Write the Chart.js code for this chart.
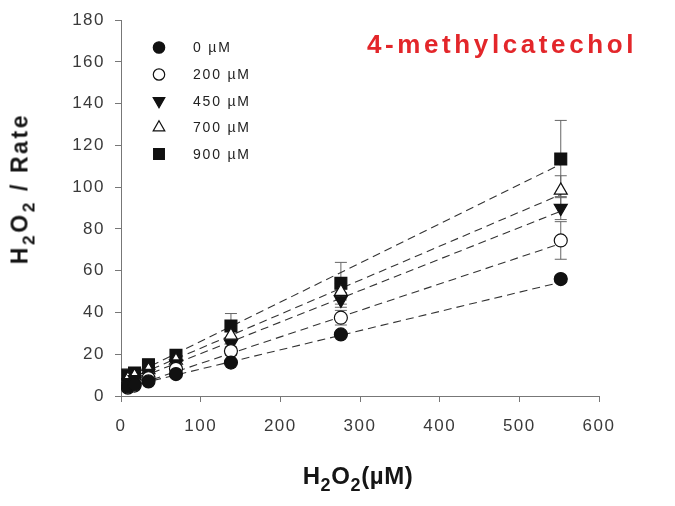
<!DOCTYPE html>
<html>
<head>
<meta charset="utf-8">
<script src="https://cdn.jsdelivr.net/npm/chart.js@4.4.1/dist/chart.umd.min.js"></script>
<style>
  body { margin: 0; background: #fff; }
  #wrap { position: relative; width: 675px; height: 506px; font-family: "Liberation Sans", Arial, sans-serif; }
  #chart { position: absolute; left: 0; top: 0; }
  .lbl { position: absolute; font-weight: bold; color: #151515; white-space: nowrap; text-align: center; line-height: 1; }
  .lbl sub { font-size: 0.75em; vertical-align: -0.38em; line-height: 0; }
  #xTitle { left: 258px; top: 464px; width: 200px; font-size: 24px; letter-spacing: 0.6px; }
  #yTitle { left: -110px; top: 177px; width: 260px; font-size: 23px; transform: rotate(-90deg); letter-spacing: 2.6px; }
  #tag { left: 367px; top: 31px; font-size: 26px; color: #e3262a; letter-spacing: 3.6px; text-align: left; }
</style>
</head>
<body>
<div id="wrap">
  <canvas id="chart" width="675" height="506"></canvas>
  <div class="lbl" id="yTitle">H<sub>2</sub>O<sub>2</sub>&nbsp;/&nbsp;Rate</div>
  <div class="lbl" id="xTitle">H<sub>2</sub>O<sub>2</sub>(&micro;M)</div>
  <div class="lbl" id="tag">4-methylcatechol</div>
</div>
<script>
// H2O2 concentrations as placed on the plot
const h2o2 = [8.6, 17, 34.5, 69, 138, 276, 552];

// H2O2 / Rate for each inhibitor concentration
const rate0 = [4.5, 5.5, 7, 10.5, 16, 29.5, 56];
const rate200 = [4, 5, 8.5, 13, 21.5, 37.5, 74.5];
const rate450 = [6.5, 8, 11, 15.5, 25, 46, 90];
const rate700 = [8, 9.5, 12.5, 17, 29, 50, 98.5];
const rate900 = [10, 11, 15, 19.5, 33.5, 54, 113.5];

// error bars (+/-)
const err0 = [0.5, 0.5, 0.5, 1, 1, 1.5, 1.5];
const err200 = [0.5, 0.5, 1, 1, 2, 3.5, 9];
const err450 = [0.5, 0.5, 1, 1, 2, 3.5, 5.5];
const err700 = [1, 1, 1, 1.5, 3, 4, 7];
const err900 = [1.5, 1.5, 2, 2, 6, 10, 18.5];

// dashed fit lines, end points
const fitX = [8.6, 552];
const fit0 = [4.5, 54.5];
const fit200 = [4, 73];
const fit450 = [6.5, 88.5];
const fit700 = [8, 96.5];
const fit900 = [9, 111];

const legendLabels = ["0 \u00b5M", "200 \u00b5M", "450 \u00b5M", "700 \u00b5M", "900 \u00b5M"];

const xTicks = [0, 100, 200, 300, 400, 500, 600];
const yTicks = [0, 20, 40, 60, 80, 100, 120, 140, 160, 180];

const pts = (ys) => h2o2.map((x, i) => ({ x: x, y: ys[i] }));
const fitPts = (ys) => fitX.map((x, i) => ({ x: x, y: ys[i] }));

const markers = [
  { data: rate0, err: err0, style: "circle", fill: "#111", r: 6.5, rot: 0 },
  { data: rate200, err: err200, style: "circle", fill: "#fff", r: 6.5, rot: 0 },
  { data: rate450, err: err450, style: "triangle", fill: "#111", r: 7.5, rot: 180 },
  { data: rate700, err: err700, style: "triangle", fill: "#fff", r: 7.5, rot: 0 },
  { data: rate900, err: err900, style: "rect", fill: "#111", r: 8.4, rot: 0 },
];

const fits = [fit0, fit200, fit450, fit700, fit900];

const datasets = [];
markers.forEach((m, i) => {
  datasets.push({
    label: legendLabels[i],
    data: pts(m.data),
    errors: m.err,
    showLine: false,
    pointStyle: m.style,
    pointRotation: m.rot,
    pointRadius: m.r,
    pointBackgroundColor: m.fill,
    pointBorderColor: "#111",
    pointBorderWidth: 1.2,
    order: 0,
  });
});
fits.forEach((f) => {
  datasets.push({
    label: "fit",
    data: fitPts(f),
    showLine: true,
    borderColor: "#333",
    borderWidth: 1.1,
    borderDash: [8, 5],
    pointRadius: 0,
    order: 1,
  });
});

// wider tick text like the original
const spacing = {
  id: "spacing",
  beforeLayout(chart) { chart.ctx.letterSpacing = "1.5px"; },
  beforeDraw(chart) { chart.ctx.letterSpacing = "1.5px"; },
};

// error bars behind the markers
const errorBars = {
  id: "errorBars",
  beforeDatasetsDraw(chart) {
    const ctx = chart.ctx;
    const xs = chart.scales.x;
    const ys = chart.scales.y;
    ctx.save();
    ctx.strokeStyle = "#666";
    ctx.lineWidth = 1;
    chart.data.datasets.forEach((ds) => {
      if (!ds.errors) return;
      ds.data.forEach((p, i) => {
        const px = xs.getPixelForValue(p.x);
        const top = ys.getPixelForValue(p.y + ds.errors[i]);
        const bot = ys.getPixelForValue(p.y - ds.errors[i]);
        ctx.beginPath();
        ctx.moveTo(px, top);
        ctx.lineTo(px, bot);
        ctx.moveTo(px - 6, top);
        ctx.lineTo(px + 6, top);
        ctx.moveTo(px - 6, bot);
        ctx.lineTo(px + 6, bot);
        ctx.stroke();
      });
    });
    ctx.restore();
  },
};

// legend inside the plot, top left
const insideLegend = {
  id: "insideLegend",
  afterDraw(chart) {
    const ctx = chart.ctx;
    const rows = [47.5, 74.5, 101, 127.5, 154];
    ctx.save();
    markers.forEach((m, i) => {
      ctx.fillStyle = m.fill;
      ctx.strokeStyle = "#111";
      ctx.lineWidth = 1.2;
      Chart.helpers.drawPoint(ctx, { pointStyle: m.style, rotation: m.rot, radius: m.r - 0.8, borderWidth: 1.2 }, 159, rows[i]);
      ctx.fillStyle = "#222";
      ctx.font = "14px 'Liberation Sans', Arial, sans-serif";
      ctx.letterSpacing = "1.8px";
      ctx.textBaseline = "middle";
      ctx.fillText(legendLabels[i], 193, rows[i] + 1);
    });
    ctx.letterSpacing = "0px";
    ctx.restore();
  },
};

const tickFont = { size: 17, family: "'Liberation Sans', Arial, sans-serif" };

new Chart(document.getElementById("chart"), {
  type: "scatter",
  data: { datasets: datasets },
  options: {
    responsive: false,
    animation: false,
    layout: { padding: { top: 16, right: 76, left: 0, bottom: 0 } },
    plugins: {
      legend: { display: false },
      tooltip: { enabled: false },
    },
    scales: {
      x: {
        type: "linear",
        min: 0,
        max: 600,
        afterBuildTicks: (s) => { s.ticks = xTicks.map((v) => ({ value: v })); },
        afterFit: (s) => { s.height = 110; },
        border: { display: true, color: "#777", width: 1 },
        grid: { drawOnChartArea: false, color: "#777", tickLength: 6 },
        ticks: { color: "#3a3a3a", padding: 14, font: tickFont },
      },
      y: {
        type: "linear",
        min: 0,
        max: 180,
        afterBuildTicks: (s) => { s.ticks = yTicks.map((v) => ({ value: v })); },
        afterFit: (s) => { s.width = 121; },
        border: { display: true, color: "#777", width: 1 },
        grid: { drawOnChartArea: false, color: "#777", tickLength: 6 },
        ticks: { color: "#3a3a3a", padding: 10, font: tickFont },
      },
    },
  },
  plugins: [spacing, errorBars, insideLegend],
});
</script>
</body>
</html>
